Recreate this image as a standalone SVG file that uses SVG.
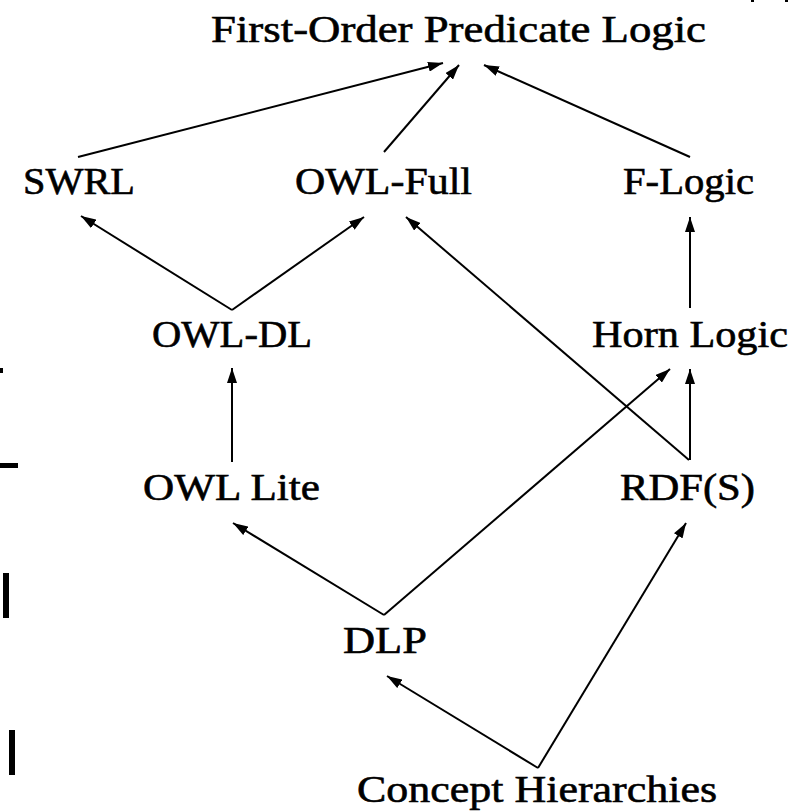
<svg xmlns="http://www.w3.org/2000/svg" width="803" height="811" viewBox="0 0 803 811">
<style>
.lbl{font-family:"Liberation Serif","DejaVu Serif",serif;font-size:38px;fill:#000;stroke:#000;stroke-width:0.6}
.edge{stroke:#000;stroke-width:2;fill:none;marker-end:url(#ah)}
</style>
<defs>
<marker id="ah" markerUnits="userSpaceOnUse" markerWidth="15" markerHeight="10" refX="15" refY="5" orient="auto">
<path d="M0,0 L15,5 L0,10 z" fill="#000"/>
</marker>
</defs>
<rect width="803" height="811" fill="#fff"/>
<g id="edges">
<line class="edge" x1="78" y1="157" x2="443" y2="63"/>
<line class="edge" x1="384" y1="152" x2="459" y2="65"/>
<line class="edge" x1="690" y1="157" x2="484" y2="65"/>
<line class="edge" x1="232" y1="310" x2="81" y2="216"/>
<line class="edge" x1="232" y1="310" x2="364" y2="217"/>
<line class="edge" x1="689" y1="460" x2="406" y2="217"/>
<line class="edge" x1="690" y1="308" x2="690" y2="217"/>
<line class="edge" x1="232" y1="462" x2="232" y2="368"/>
<line class="edge" x1="690" y1="460" x2="690" y2="369"/>
<line class="edge" x1="384" y1="615" x2="233" y2="523"/>
<line class="edge" x1="384" y1="615" x2="670" y2="369"/>
<line class="edge" x1="538" y1="768" x2="387" y2="676"/>
<line class="edge" x1="538" y1="768" x2="686" y2="523"/>
</g>
<g id="fopl"><text class="lbl" x="211" y="42" textLength="495" lengthAdjust="spacingAndGlyphs">First-Order Predicate Logic</text></g>
<g id="swrl"><text class="lbl" x="23" y="194" textLength="112" lengthAdjust="spacingAndGlyphs">SWRL</text></g>
<g id="owlfull"><text class="lbl" x="295" y="194" textLength="177" lengthAdjust="spacingAndGlyphs">OWL-Full</text></g>
<g id="flogic"><text class="lbl" x="623" y="194" textLength="131" lengthAdjust="spacingAndGlyphs">F-Logic</text></g>
<g id="owldl"><text class="lbl" x="152" y="347" textLength="160" lengthAdjust="spacingAndGlyphs">OWL-DL</text></g>
<g id="horn"><text class="lbl" x="592" y="347" textLength="196" lengthAdjust="spacingAndGlyphs">Horn Logic</text></g>
<g id="owllite"><text class="lbl" x="143" y="500" textLength="177" lengthAdjust="spacingAndGlyphs">OWL Lite</text></g>
<g id="rdfs"><text class="lbl" x="620" y="500" textLength="135" lengthAdjust="spacingAndGlyphs">RDF(S)</text></g>
<g id="dlp"><text class="lbl" x="343" y="653" textLength="84" lengthAdjust="spacingAndGlyphs">DLP</text></g>
<g id="concept"><text class="lbl" x="357" y="802" textLength="360" lengthAdjust="spacingAndGlyphs">Concept Hierarchies</text></g>
<g id="marks" fill="#000">
<rect x="0" y="368" width="3" height="5"/>
<rect x="0" y="463" width="18" height="5"/>
<rect x="3" y="573" width="6" height="45"/>
<rect x="9" y="730" width="6" height="45"/>
<rect x="751" y="0" width="3" height="2"/>
<rect x="785" y="0" width="3" height="2"/>
</g>
</svg>
